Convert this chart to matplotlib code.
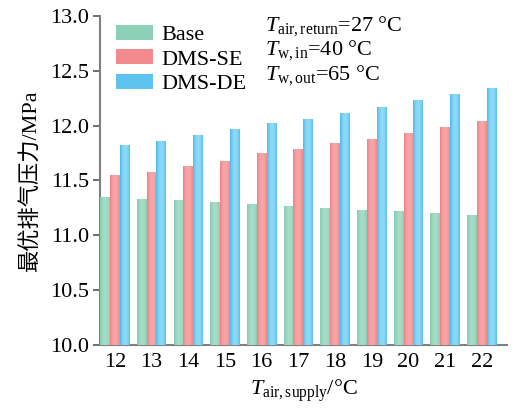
import matplotlib
matplotlib.use("Agg")
import matplotlib.pyplot as plt
import numpy as np
from matplotlib.colors import to_rgb

plt.rcParams["font.family"] = ["Liberation Serif", "DejaVu Sans"]
plt.rcParams["mathtext.fontset"] = "custom"
plt.rcParams["mathtext.rm"] = "Liberation Serif"
plt.rcParams["mathtext.it"] = "Liberation Serif:italic"

supply_temp = [12, 13, 14, 15, 16, 17, 18, 19, 20, 21, 22]
base = [11.35, 11.33, 11.32, 11.30, 11.28, 11.27, 11.25, 11.23, 11.22, 11.20, 11.18]
dms_se = [11.55, 11.58, 11.63, 11.68, 11.75, 11.79, 11.84, 11.88, 11.93, 11.99, 12.04]
dms_de = [11.82, 11.86, 11.91, 11.97, 12.02, 12.06, 12.11, 12.17, 12.23, 12.29, 12.34]
series_names = ["Base", "DMS-SE", "DMS-DE"]
yticks = [10.0, 10.5, 11.0, 11.5, 12.0, 12.5, 13.0]

# (dark edge, light centre) for the cylinder-like shading
colors = [("#70c4a6", "#a8dcc9"), ("#ee7074", "#f7a6a8"), ("#2daee6", "#8ed9f7")]


def gradient(dark, light, n=32):
    d, l = np.array(to_rgb(dark)), np.array(to_rgb(light))
    t = np.linspace(0, 1, n)
    w = np.clip(np.sin(np.pi * (t * 0.85 + 0.05)) ** 0.7, 0, 1)[:, None]
    return (d * (1 - w) + l * w)[None, :, :]


fig = plt.figure(figsize=(5.16, 4.17), dpi=100)
ax = fig.add_axes([0.194, 0.173, 0.789, 0.789])

x = np.array(supply_temp, dtype=float)
width = 0.267
for k, (vals, name, (dark, light)) in enumerate(zip([base, dms_se, dms_de], series_names, colors)):
    mid = tuple((np.array(to_rgb(dark)) + np.array(to_rgb(light))) / 2)
    bars = ax.bar(x + (k - 1) * width, np.array(vals) - 10.0, width, bottom=10.0,
                  color=mid, label=name, linewidth=0, zorder=2)
    g = gradient(dark, light)
    for p in bars:
        x0, y0 = p.get_x(), p.get_y()
        im = ax.imshow(g, extent=[x0, x0 + p.get_width(), y0, y0 + p.get_height()],
                       aspect="auto", zorder=3, interpolation="bilinear")
        im.set_clip_path(p)

ax.set_xlim(11.6, 22.69)
ax.set_ylim(10.0, 13.0)
ax.set_xticks(supply_temp)
ax.set_yticks(yticks)
ax.set_yticklabels([f"{v:.1f}" for v in yticks])
ax.tick_params(axis="x", length=0, labelsize=16, pad=6)
ax.tick_params(axis="y", direction="out", length=5, width=1.2, color="#555555", labelsize=16, pad=3)
for s in ["top", "right"]:
    ax.spines[s].set_visible(False)
for s in ["left", "bottom"]:
    ax.spines[s].set_color("#808080")
    ax.spines[s].set_linewidth(1.5)

ax.set_ylabel("最优排气压力/MPa", fontsize=16, family=["Liberation Serif", "Noto Sans CJK SC"], labelpad=6)
ax.set_xlabel(r"$T_{\rm air,supply}$/°C", fontsize=16, labelpad=4)

ax.legend(loc="upper left", bbox_to_anchor=(0.0, 1.02), frameon=False, fontsize=16,
          handlelength=1.7, handleheight=0.65, handletextpad=0.35, labelspacing=0.2,
          borderaxespad=0.3, borderpad=0.4)

notes = [r"$T_{\rm air,return}$=27 °C", r"$T_{\rm w,in}$=40 °C", r"$T_{\rm w,out}$=65 °C"]
for i, t in enumerate(notes):
    ax.text(0.405, 0.955 - i * 0.074, t, transform=ax.transAxes, fontsize=16, va="baseline")

fig.savefig("out.png", dpi=100)
